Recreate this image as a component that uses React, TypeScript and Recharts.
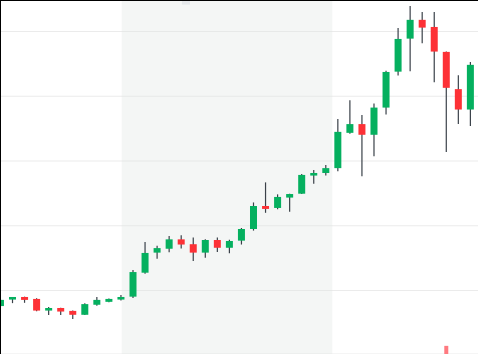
import { ComposedChart, Bar, XAxis, YAxis, CartesianGrid, ReferenceArea, ReferenceLine } from "recharts";

const idx = Array.from({ length: 40 }, (_, i) => i);

const opens = [
  175.2, 177.2, 178.0, 177.4, 173.8, 174.6, 173.7, 172.5, 175.6, 176.5,
  177.2, 178.1, 185.5, 191.7, 192.9, 195.8, 194.3, 191.7, 195.6, 193.2,
  195.4, 199.0, 206.1, 205.5, 208.7, 209.9, 215.5, 216.3, 217.8, 228.7,
  231.4, 228.1, 236.5, 247.6, 257.8, 263.6, 261.4, 253.7, 242.2, 235.9,
];
const highs = [
  177.3, 178.0, 178.1, 177.6, 174.9, 174.7, 173.8, 176.1, 178.0, 177.5,
  178.6, 186.3, 195.0, 193.8, 196.8, 197.1, 196.4, 195.8, 196.4, 195.7,
  199.3, 207.2, 213.4, 209.7, 209.9, 216.0, 217.2, 218.8, 233.0, 238.8,
  234.2, 237.8, 247.9, 261.1, 267.9, 266.0, 266.0, 253.8, 246.5, 250.6,
];
const lows = [
  175.0, 176.1, 176.2, 173.6, 172.4, 172.4, 171.2, 172.4, 175.3, 176.4,
  176.9, 177.7, 185.2, 189.8, 191.8, 193.0, 189.1, 190.1, 191.9, 191.5,
  194.2, 198.5, 204.0, 205.1, 204.3, 209.8, 213.0, 215.5, 216.8, 228.4,
  215.3, 221.5, 234.4, 246.4, 247.7, 256.4, 244.3, 222.8, 231.4, 230.8,
];
const closes = [
  177.1, 178.0, 177.1, 173.8, 174.6, 173.5, 172.5, 175.8, 177.1, 177.4,
  178.0, 185.7, 191.6, 193.1, 195.8, 194.2, 191.7, 195.6, 193.2, 195.3,
  199.0, 206.1, 205.2, 208.9, 209.8, 215.7, 216.3, 217.8, 229.0, 231.4,
  228.1, 236.5, 247.5, 257.7, 263.6, 261.2, 253.8, 242.6, 235.9, 249.7,
];
// only one volume bar peeks into the visible window
const volumes = idx.map((i) => (i === 37 ? 2.3 : null));

const priceTicks = [180, 200, 220, 240, 260];
const X_DOMAIN = [-0.04, 39.63];
const Y_DOMAIN = [160.39, 269.73];

const GREEN = "#05b05f";
const RED = "#fd3136";
const WICK = "#3a4149";

const data = idx.map((i) => ({
  i,
  open: opens[i],
  high: highs[i],
  low: lows[i],
  close: closes[i],
  vol: volumes[i],
}));

function Candle(props: any) {
  const { x, y, width, height, payload } = props;
  if (x == null || y == null) return null;
  const { open, close, high, low } = payload;
  const top = Math.min(y, y + height);
  const h = Math.abs(height);
  const cx = x + width / 2;
  const ratio = high === low ? 0 : h / (high - low);
  const bTop = top + (high - Math.max(open, close)) * ratio;
  const bBot = top + (high - Math.min(open, close)) * ratio;
  const color = close >= open ? GREEN : RED;
  return (
    <g>
      <line x1={cx} x2={cx} y1={top} y2={top + h} stroke={WICK} strokeWidth={1.2} />
      <rect x={cx - 3.5} y={bTop} width={7} height={Math.max(bBot - bTop, 1.5)} fill={color} />
    </g>
  );
}

function VolBar(props: any) {
  const { x, y, width, height } = props;
  if (x == null || y == null || !height) return null;
  const cx = x + width / 2;
  return <rect x={cx - 2} y={Math.min(y, y + height)} width={4} height={Math.abs(height)} fill="#ff7a80" />;
}

export default function App() {
  return (
    <div style={{ position: "fixed", left: 0, top: 0, width: 478, height: 354, overflow: "hidden", background: "#fff" }}>
      <ComposedChart width={478} height={354} data={data} barGap={-8} margin={{ top: 0, right: 0, bottom: 0, left: 0 }}>
        <XAxis type="number" dataKey="i" domain={X_DOMAIN} allowDataOverflow hide />
        <YAxis yAxisId="price" domain={Y_DOMAIN} ticks={priceTicks} allowDataOverflow hide />
        <YAxis yAxisId="vol" domain={[0, 100]} hide />
        <ReferenceArea yAxisId="price" x1={10.06} x2={27.54} y1={Y_DOMAIN[0]} y2={Y_DOMAIN[1]} fill="#dfe6e2" fillOpacity={0.35} stroke="none" ifOverflow="hidden" />
        <ReferenceArea yAxisId="price" x1={15.06} x2={15.73} y1={268.3} y2={Y_DOMAIN[1]} fill="#d8dbe2" stroke="none" ifOverflow="hidden" />
        <CartesianGrid yAxisId="price" vertical={false} stroke="#ebebeb" />
        <Bar yAxisId="vol" dataKey="vol" barSize={8} shape={<VolBar />} isAnimationActive={false} />
        <Bar
          yAxisId="price"
          dataKey={(d: any) => [d.low, d.high]}
          barSize={8}
          shape={<Candle />}
          isAnimationActive={false}
        />
        <ReferenceLine yAxisId="price" x={X_DOMAIN[0]} stroke="#000" strokeWidth={2} ifOverflow="visible" />
        <ReferenceLine yAxisId="price" y={Y_DOMAIN[1]} stroke="#000" strokeWidth={2} ifOverflow="visible" />
      </ComposedChart>
    </div>
  );
}
